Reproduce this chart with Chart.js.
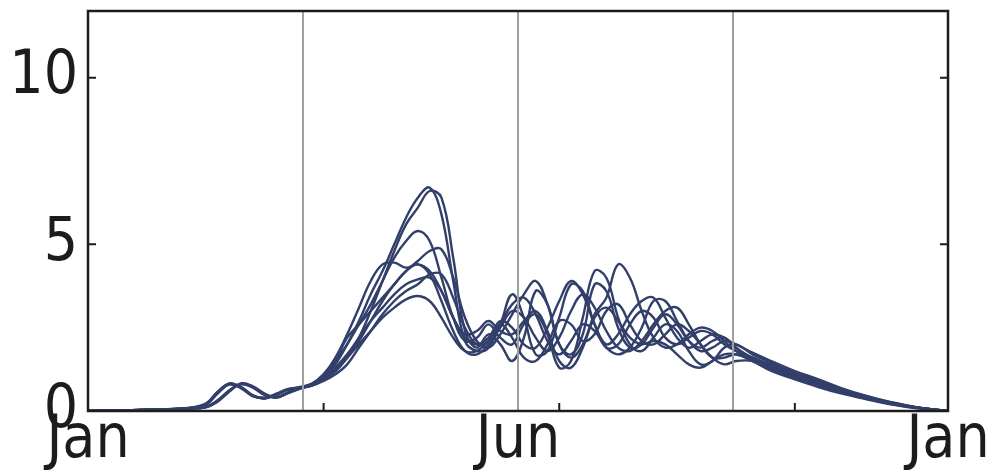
<!DOCTYPE html>
<html>
<head>
<meta charset="utf-8">
<script src="https://cdn.jsdelivr.net/npm/chart.js@4.4.1/dist/chart.umd.min.js"></script>
<style>
  html, body { margin: 0; padding: 0; background: #fff; }
  #wrap { width: 1004px; height: 472px; }
</style>
</head>
<body>
<div id="wrap"><canvas id="chart"></canvas></div>
<script>
// Day of year for every sample (shared by all series).
const days = [0, 15, 30, 42, 50, 55, 60, 65, 70, 75, 80, 85, 90, 95,
  100, 105, 110, 115, 120, 125, 130, 135, 140, 145, 150, 155, 160, 165, 170, 175,
  180, 185, 190, 195, 200, 205, 210, 215, 220, 225, 230, 235, 240, 245, 250, 255,
  260, 265, 270, 275, 282, 290, 300, 310, 320, 330, 340, 352, 365];

const series1 = [0, 0.02, 0.05, 0.08, 0.2, 0.55, 0.82, 0.7, 0.45, 0.38, 0.5, 0.65, 0.7, 0.78,
  1.0, 1.4, 2.0, 2.7, 3.5, 4.2, 5.0, 5.8, 6.4, 6.7, 5.9, 3.9, 2.1, 1.8, 1.9, 2.6,
  3.5, 2.8, 1.7, 1.8, 2.8, 3.8, 3.6, 2.6, 1.9, 2.0, 2.6, 3.0, 2.8, 2.2, 2.0, 2.2,
  2.4, 2.3, 2.0, 1.8, 1.6, 1.35, 1.1, 0.85, 0.6, 0.42, 0.25, 0.1, 0];
const series2 = [0, 0.02, 0.05, 0.08, 0.12, 0.3, 0.6, 0.82, 0.72, 0.5, 0.4, 0.55, 0.68, 0.78,
  1.0, 1.2, 1.6, 2.2, 3.0, 3.9, 4.8, 5.6, 6.1, 6.6, 6.4, 4.6, 2.4, 1.9, 2.3, 2.0,
  1.5, 2.2, 3.6, 3.2, 2.0, 1.7, 2.3, 3.8, 3.6, 2.5, 1.9, 2.0, 2.5, 2.9, 2.6, 2.1,
  1.9, 2.1, 2.2, 1.9, 1.55, 1.3, 1.05, 0.8, 0.58, 0.4, 0.24, 0.1, 0];
const series3 = [0, 0.02, 0.05, 0.09, 0.22, 0.58, 0.8, 0.68, 0.44, 0.4, 0.52, 0.66, 0.71, 0.8,
  1.1, 1.5, 2.0, 2.6, 3.2, 3.9, 4.6, 5.1, 5.4, 5.1, 4.0, 2.8, 2.1, 2.2, 2.6, 2.2,
  2.0, 2.6, 2.9, 2.3, 1.3, 1.5, 2.8, 4.2, 4.0, 2.8, 2.0, 1.8, 2.2, 2.6, 2.4, 1.8,
  1.4, 1.5, 1.9, 2.0, 1.7, 1.45, 1.1, 0.85, 0.6, 0.42, 0.25, 0.1, 0];
const series4 = [0, 0.02, 0.04, 0.08, 0.13, 0.32, 0.62, 0.8, 0.7, 0.48, 0.42, 0.56, 0.69, 0.76,
  0.95, 1.2, 1.6, 2.1, 2.7, 3.3, 3.8, 4.2, 4.5, 4.8, 4.85, 4.0, 2.8, 2.1, 1.9, 2.3,
  2.9, 3.5, 3.9, 3.2, 2.0, 1.6, 2.0, 2.9, 3.4, 4.4, 4.0, 3.0, 2.2, 1.9, 2.0, 2.3,
  2.5, 2.4, 2.1, 1.8, 1.5, 1.25, 1.0, 0.75, 0.55, 0.38, 0.22, 0.09, 0];
const series5 = [0, 0.02, 0.05, 0.08, 0.19, 0.52, 0.8, 0.72, 0.47, 0.39, 0.49, 0.64, 0.72, 0.82,
  1.1, 1.6, 2.3, 3.1, 3.9, 4.4, 4.45, 4.3, 4.4, 4.2, 3.6, 2.8, 2.2, 2.0, 2.2, 2.7,
  2.5, 2.0, 1.9, 2.5, 3.3, 3.9, 3.5, 2.6, 2.0, 2.3, 2.9, 3.3, 3.4, 2.8, 2.2, 1.9,
  2.1, 2.3, 2.2, 1.9, 1.6, 1.4, 1.15, 0.9, 0.65, 0.45, 0.27, 0.11, 0];
const series6 = [0, 0.02, 0.05, 0.07, 0.11, 0.28, 0.58, 0.83, 0.74, 0.52, 0.41, 0.54, 0.67, 0.8,
  1.0, 1.5, 2.2, 2.6, 3.0, 3.4, 3.8, 4.2, 4.4, 4.1, 3.3, 2.4, 1.8, 1.7, 2.0, 2.5,
  3.0, 2.8, 2.2, 1.8, 2.2, 3.0, 3.5, 3.1, 2.4, 1.9, 1.8, 2.1, 2.6, 3.0, 3.1, 2.6,
  2.0, 1.6, 1.6, 1.7, 1.6, 1.35, 1.1, 0.85, 0.6, 0.42, 0.25, 0.1, 0];
const series7 = [0, 0.02, 0.05, 0.08, 0.21, 0.56, 0.83, 0.69, 0.46, 0.37, 0.5, 0.64, 0.69, 0.76,
  0.9, 1.1, 1.4, 1.9, 2.4, 2.9, 3.3, 3.6, 3.8, 4.1, 4.1, 3.4, 2.5, 2.0, 2.1, 2.6,
  2.2, 1.6, 1.5, 2.0, 2.7, 2.6, 2.1, 2.3, 3.0, 3.2, 2.6, 2.1, 2.0, 2.3, 2.6, 2.4,
  2.0, 1.6, 1.4, 1.5, 1.5, 1.3, 1.05, 0.8, 0.57, 0.4, 0.24, 0.1, 0];
const series8 = [0, 0.02, 0.04, 0.08, 0.12, 0.31, 0.61, 0.81, 0.71, 0.49, 0.4, 0.55, 0.68, 0.77,
  0.95, 1.3, 1.7, 2.2, 2.7, 3.1, 3.5, 3.8, 3.95, 4.0, 3.6, 2.8, 2.3, 2.4, 2.7, 2.4,
  2.3, 2.7, 3.0, 2.4, 1.5, 1.3, 1.9, 2.8, 3.1, 2.7, 2.2, 2.0, 2.1, 2.0, 1.7, 1.4,
  1.3, 1.5, 1.7, 1.7, 1.5, 1.2, 0.95, 0.72, 0.52, 0.36, 0.21, 0.08, 0];
const series9 = [0, 0.02, 0.05, 0.08, 0.2, 0.54, 0.81, 0.71, 0.46, 0.39, 0.51, 0.65, 0.7, 0.79,
  1.0, 1.25, 1.6, 2.0, 2.4, 2.8, 3.1, 3.35, 3.45, 3.3, 2.8, 2.2, 1.8, 1.8, 2.1, 2.6,
  3.2, 3.4, 2.9, 2.1, 1.7, 2.1, 2.6, 2.4, 1.9, 1.7, 1.9, 2.5, 3.3, 3.3, 2.7, 2.1,
  1.8, 1.9, 2.1, 2.0, 1.75, 1.5, 1.2, 0.95, 0.68, 0.46, 0.28, 0.11, 0];

const allSeries = [series1, series2, series3, series4, series5, series6, series7, series8, series9];

// Quarter boundaries (grey verticals), axis ticks and labels.
const quarterDays = [91.25, 182.5, 273.75];
const xLabelDays = [0, 182.5, 365];
const xLabels = ['Jan', 'Jun', 'Jan'];
const xTickMarkDays = [100, 200, 300];
const yTickValues = [0, 5, 10];
const yTickMarks = [5, 10];

const LINE_COLOR = '#333f6b';
const GREY = '#a0a0a0';
const INK = '#1c1c1c';
const FONT = "'Liberation Sans Narrow', 'DejaVu Sans Condensed', 'Liberation Sans', sans-serif";

// Border box + inward tick marks, positioned from the scales.
const frame = {
  id: 'frame',
  afterDraw(chart) {
    const { ctx, chartArea: a, scales } = chart;
    ctx.save();
    ctx.strokeStyle = INK;
    ctx.lineWidth = 2.5;
    ctx.strokeRect(a.left, a.top, a.right - a.left, a.bottom - a.top);
    ctx.lineWidth = 2;
    ctx.beginPath();
    for (const d of xTickMarkDays) {
      const x = scales.x.getPixelForValue(d);
      ctx.moveTo(x, a.bottom);
      ctx.lineTo(x, a.bottom - 8);
    }
    for (const v of yTickMarks) {
      const y = scales.y.getPixelForValue(v);
      ctx.moveTo(a.left, y);
      ctx.lineTo(a.left + 8, y);
      ctx.moveTo(a.right, y);
      ctx.lineTo(a.right - 8, y);
    }
    ctx.stroke();
    ctx.restore();
  },
};

const datasets = allSeries.map((s, i) => ({
  label: `s${i + 1}`,
  data: days.map((d, j) => ({ x: d, y: s[j] })),
  borderColor: LINE_COLOR,
  borderWidth: 2.4,
  pointRadius: 0,
  tension: 0.4,
  fill: false,
  order: 1,
}));

for (const q of quarterDays) {
  datasets.push({
    label: 'q',
    data: [{ x: q, y: 0 }, { x: q, y: 12 }],
    borderColor: GREY,
    borderWidth: 2,
    pointRadius: 0,
    tension: 0,
    order: 0,
  });
}

function noPad(s) {
  s.paddingTop = 0;
  s.paddingBottom = 0;
  s.paddingLeft = 0;
  s.paddingRight = 0;
}

new Chart(document.getElementById('chart'), {
  type: 'line',
  data: { datasets },
  plugins: [frame],
  options: {
    responsive: true,
    maintainAspectRatio: false,
    animation: false,
    layout: { padding: { top: 11, right: 56, left: 0, bottom: 0 } },
    plugins: { legend: { display: false }, tooltip: { enabled: false } },
    scales: {
      x: {
        type: 'linear',
        min: 0,
        max: 365,
        grid: { display: false, drawTicks: false },
        border: { display: false },
        afterBuildTicks: (s) => { s.ticks = xLabelDays.map((v) => ({ value: v })); },
        afterFit: (s) => { s.height = 61; noPad(s); },
        ticks: {
          autoSkip: false,
          maxRotation: 0,
          padding: -6,
          color: INK,
          font: { family: FONT, size: 60 },
          callback: (v, i) => xLabels[i],
        },
      },
      y: {
        min: 0,
        max: 12,
        grid: { display: false, drawTicks: false },
        border: { display: false },
        afterBuildTicks: (s) => { s.ticks = yTickValues.map((v) => ({ value: v })); },
        afterFit: (s) => { s.width = 88; noPad(s); },
        ticks: {
          padding: 10,
          color: INK,
          font: { family: FONT, size: 60 },
        },
      },
    },
  },
});
</script>
</body>
</html>
